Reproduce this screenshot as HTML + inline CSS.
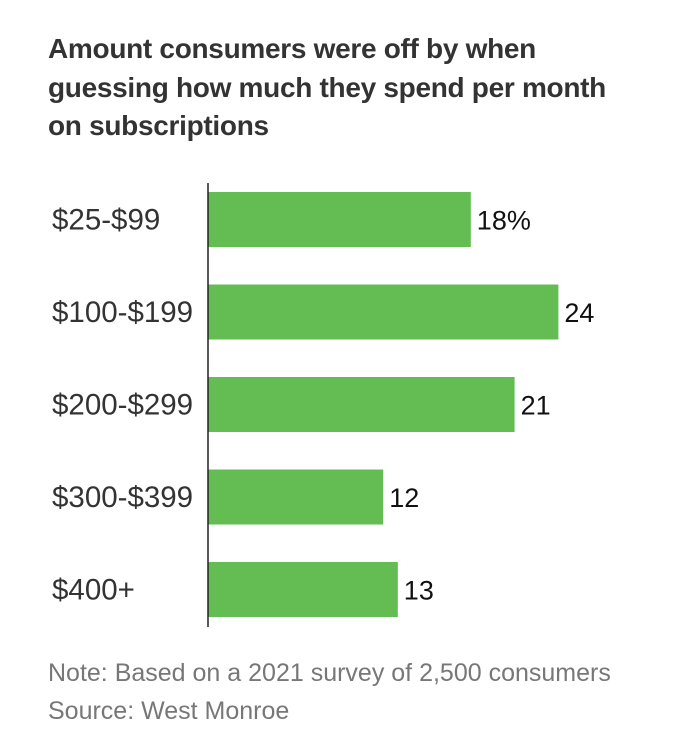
<!DOCTYPE html>
<html><head><meta charset="utf-8"><style>
body{margin:0;background:#fff;width:684px;height:752px;overflow:hidden;font-family:"Liberation Sans",sans-serif}
.t{position:absolute;left:48px;top:30px;font-size:28px;font-weight:bold;color:#333;line-height:38.5px;letter-spacing:-0.3px}
.n{position:absolute;left:48px;font-size:25px;color:#777}
</style></head><body>
<div class="t">Amount consumers were off by when<br>guessing how much they spend per month<br>on subscriptions</div>
<svg id="c" width="684" height="752" style="position:absolute;left:0;top:0"></svg>
<div class="n" style="top:659px">Note: Based on a 2021 survey of 2,500 consumers</div>
<div class="n" style="top:697px">Source: West Monroe</div>
<script>
const categories=["$25-$99","$100-$199","$200-$299","$300-$399","$400+"];
const values=[18,24,21,12,13];
const valueLabels=["18%","24","21","12","13"];
const ns="http://www.w3.org/2000/svg",svg=document.getElementById('c');
const x0=208,xs=v=>x0+v*14.6,yb=i=>192+i*92.5,bh=55;
function mk(t,a){const e=document.createElementNS(ns,t);for(const k in a)e.setAttribute(k,a[k]);svg.appendChild(e);return e;}
categories.forEach((c,i)=>{
 const r=mk('rect',{x:x0,y:yb(i),width:xs(values[i])-x0,height:bh,fill:'#63bd52'});
 
 
 const l=mk('text',{x:52,y:yb(i)+bh/2+10,'font-size':29.5,fill:'#333','font-family':'Liberation Sans'});l.textContent=c;
 
 
 const v=mk('text',{x:xs(values[i])+6,y:yb(i)+bh/2+10,'font-size':27,fill:'#111','font-family':'Liberation Sans'});v.textContent=valueLabels[i];
 
 
});
const ax=mk('line',{x1:x0,x2:x0,y1:183,y2:627,stroke:'#222','stroke-width':1.5});


</script>
</body></html>
